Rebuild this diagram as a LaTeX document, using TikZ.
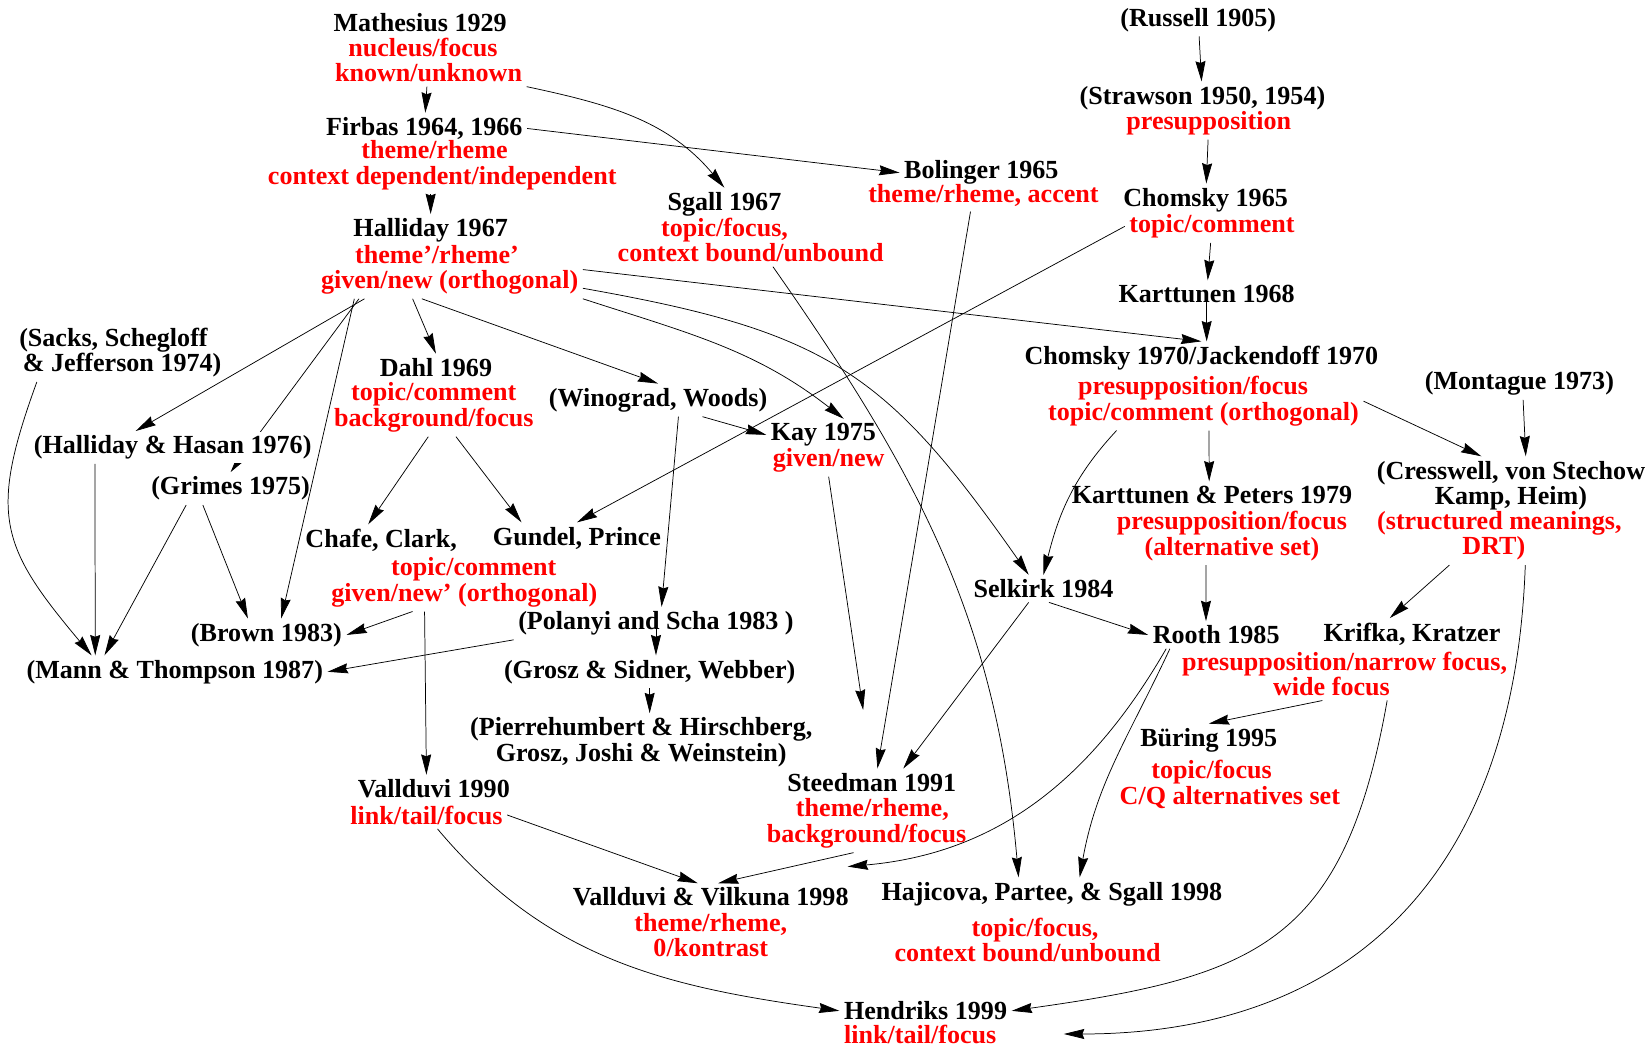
\documentclass[tikz,border=0pt]{standalone}
\usepackage{fontspec}
\setmainfont{Liberation Serif}
\usetikzlibrary{arrows.meta,backgrounds}

\tikzset{auth/.style={align=center,inner sep=2pt},
         desc/.style={text=red,align=center,inner sep=2pt}}

\begin{document}
\begin{tikzpicture}[->,>={Stealth[length=11pt,width=5.4pt,inset=1pt]},
                    x=0.02cm,y=-0.02cm,line width=1pt,
                    font=\fontsize{14.1}{13.7}\selectfont\bfseries]
  \useasboundingbox (0,0) rectangle (1568,994);

  \node[auth] (mat)  at (399,21)  {Mathesius 1929};
  \node[desc] (matd) at (407,57)  {\mbox{nucleus/focus\hspace*{6pt}}\\known/unknown};
  \node[auth] (fir)  at (403,122) {Firbas 1964, 1966};
  \node[desc] (fird) at (420,157) {\mbox{theme/rheme\hspace*{8.4pt}}\\context dependent/independent};
  \node[auth] (hal)  at (409,219) {Halliday 1967};
  \node[desc] (hald) at (427,256) {\mbox{theme'/rheme'\hspace*{13.6pt}}\\given/new (orthogonal)};

  \node[auth] (rus)   at (1138,19)  {(Russell 1905)};
  \node[auth] (str)   at (1142,93)  {(Strawson 1950, 1954)};
  \node[desc] (strd)  at (1148,117) {presupposition};
  \node[auth] (ch65)  at (1145,190) {Chomsky 1965};
  \node[desc] (ch65d) at (1151,215) {topic/comment};
  \node[auth] (kar)   at (1146,279) {Karttunen 1968};
  \node[auth] (ch70)  at (1141,340) {Chomsky 1970/Jackendoff 1970};
  \node[desc] (ch70d) at (1143,381) {\mbox{presupposition/focus\hspace*{11.3pt}}\\topic/comment (orthogonal)};

  \node[auth] (bol)  at (932,164) {Bolinger 1965};
  \node[desc] (bold) at (934,186) {theme/rheme, accent};
  \node[auth] (sga)  at (688,194) {Sgall 1967};
  \node[desc] (sgad) at (713,228) {\mbox{topic/focus,\hspace*{28.3pt}}\\context bound/unbound};

  \node[auth] (sac) at (116,335) {\mbox{(Sacks, Schegloff\hspace*{9.4pt}}\\ \& Jefferson 1974)};
  \node[auth,fill=white,inner xsep=1pt] (hh) at (164,425) {(Halliday \& Hasan 1976)};
  \node[auth] (gri) at (219,464) {(Grimes 1975)};
  \node[auth] (bro) at (253,603) {(Brown 1983)};
  \node[auth] (man) at (166,638) {(Mann \& Thompson 1987)};

  \node[auth] (dah)  at (414,349) {Dahl 1969};
  \node[desc] (dahd) at (412,387) {topic/comment\\background/focus};
  \node[auth] (cha)  at (362,513) {Chafe, Clark,};
  \node[auth] (gun)  at (548,511) {Gundel, Prince};
  \node[desc] (cgd)  at (441,553) {\mbox{\hspace*{10.2pt}topic/comment}\\given/new' (orthogonal)};
  \node[auth] (val)  at (412,749) {Vallduvi 1990};
  \node[desc] (vald) at (405,774) {link/tail/focus};

  \node[auth] (win)  at (625,380) {(Winograd, Woods)};
  \node[auth] (pol)  at (623,592) {(Polanyi and Scha 1983 )};
  \node[auth] (gro)  at (617,638) {(Grosz \& Sidner, Webber)};
  \node[auth] (pie)  at (609,705) {(Pierrehumbert \& Hirschberg,\\Grosz, Joshi \& Weinstein)};
  \node[auth] (kay)  at (782,413) {Kay 1975};
  \node[desc] (kayd) at (787,437) {given/new};
  \node[auth] (sel)  at (991,559) {Selkirk 1984};

  \node[auth] (kp)   at (1151,470) {Karttunen \& Peters 1979};
  \node[desc] (kpd)  at (1170,509) {presupposition/focus\\(alternative set)};
  \node[auth] (mon)  at (1443,364) {(Montague 1973)};
  \node[auth] (cre)  at (1435,461) {(Cresswell, von Stechow\\Kamp, Heim)};
  \node[desc] (cred) at (1424,509) {(structured meanings,\\\mbox{DRT)\hspace*{6pt}}};
  \node[auth] (roo)  at (1155,603) {Rooth 1985};
  \node[auth] (kri)  at (1341,602) {Krifka, Kratzer};
  \node[desc] (krid) at (1277,640) {presupposition/narrow focus,\\\mbox{wide focus\hspace*{14.2pt}}};
  \node[auth] (bur)  at (1148,703) {Büring 1995};
  \node[desc] (burd) at (1168,745) {\mbox{topic/focus\hspace*{19.7pt}}\\C/Q alternatives set};

  \node[auth] (ste)  at (828,743) {Steedman 1991};
  \node[desc] (sted) at (823,782) {\mbox{\hspace*{6.3pt}theme/rheme,}\\background/focus};
  \node[auth] (vv)   at (675,852) {Vallduvi \& Vilkuna 1998};
  \node[desc] (vvd)  at (675,888) {theme/rheme,\\0/kontrast};
  \node[auth] (haj)  at (999,849) {Hajicova, Partee, \& Sgall 1998};
  \node[desc] (hajd) at (976,893) {\mbox{\hspace*{8pt}topic/focus,}\\context bound/unbound};
  \node[auth] (hen)  at (879,960) {Hendriks 1999};
  \node[desc] (hend) at (874,982) {link/tail/focus};

  \begin{scope}[on background layer]
  \path (matd) edge (fir)
        (fird.south -| hal) edge (hal)
        (matd.south east) edge[out=-12,in=130] (sga.north)
        (fir.east) edge (bol.west)
        (rus) edge (str)
        (strd) edge (ch65)
        (ch65d) edge (kar)
        (kar.center) edge (kar.center |- ch70.north)
        (hald.east) edge (ch70.north)
        (hald.-8) edge[out=-10,in=125,looseness=1.2] ([xshift=-8pt]sel.north)
        (hald.south east) edge[out=-18,in=142] ([xshift=11pt]kay.north)
        ([xshift=-15pt]hald.south) edge (win.north)
        ([xshift=-20pt]hald.south) edge (dah.north)
        ([xshift=-46pt]hald.south) edge ([xshift=-20pt]hh.north)
        ([xshift=-49pt]hald.south) edge (gri.north)
        ([xshift=-51.5pt]hald.south) edge ([xshift=8pt]bro.north)
        ([xshift=12pt]sac.south west) edge[out=-110,in=130,looseness=1.3] ([xshift=-45pt]man.north)
        ([xshift=-42pt]hh.south) edge ([xshift=-43pt]man.north)
        ([xshift=-24pt]gri.south) edge ([xshift=-38pt]man.north)
        ([xshift=-15pt]gri.south) edge ([xshift=-10pt]bro.north)
        ([xshift=-3pt]dahd.south) edge ([xshift=-7pt]cha.north)
        ([xshift=12pt]dahd.south) edge ([xshift=-30pt]gun.north)
        (ch65d.west) edge (gun.north)
        ([xshift=-28pt]cgd.south) edge (bro.east)
        ([xshift=-21.5pt]cgd.south) edge ([xshift=-4pt]val.north)
        ([xshift=24pt]win.south) edge (kay.west)
        ([xshift=11pt]win.south) edge ([xshift=3pt]pol.north)
        (pol.center) edge (pol.center |- gro.north)
        (pol.south west) edge (man.east)
        (gro.south) edge (gro.south |- pie.north)
        (kayd.south) edge[shorten >=32pt] (ste.north)
        ([xshift=-7pt]bold.south) edge ([xshift=3pt]ste.north)
        ([xshift=-8pt]sel.south) edge ([xshift=17pt]ste.north)
        ([xshift=3pt]sel.south) edge (roo.west)
        ([xshift=12pt]sgad.south) edge[out=-55,in=95] ([xshift=-18pt]haj.north)
        ([xshift=-47pt]ch70d.south) edge[out=-133,in=76] (sel.north)
        ([xshift=3pt]ch70d.south) edge ([xshift=-1.5pt]kp.north)
        (ch70d.east) edge ([xshift=-16pt]cre.north)
        ([xshift=2pt]mon.south) edge ([xshift=8pt]cre.north)
        ([xshift=-14pt]kpd.south) edge ([xshift=-5.5pt]roo.north)
        ([xshift=-27pt]cred.south) edge ([xshift=-12pt]kri.north)
        ([xshift=14pt]cred.south) edge[out=-92,in=0,looseness=1.2,shorten >=34pt] (hend.east)
        ([xshift=-27pt]roo.south) edge[out=-120,in=5] ([shift={(-3pt,9pt)}]vv.north east)
        ([xshift=-25pt]roo.south) edge[out=-115,in=80] ([xshift=15pt]haj.north)
        ([xshift=-12pt]krid.south) edge (bur.north)
        ([xshift=23pt]krid.south) edge[out=-100,in=8,looseness=1.3] (hen.east)
        ([xshift=-7pt]sted.south) edge ([xshift=4pt]vv.north)
        (vald.east) edge ([xshift=-7pt]vv.north)
        ([xshift=6pt]vald.south) edge[out=-50,in=172] (hen.west);
  \end{scope}
\end{tikzpicture}
\end{document}
